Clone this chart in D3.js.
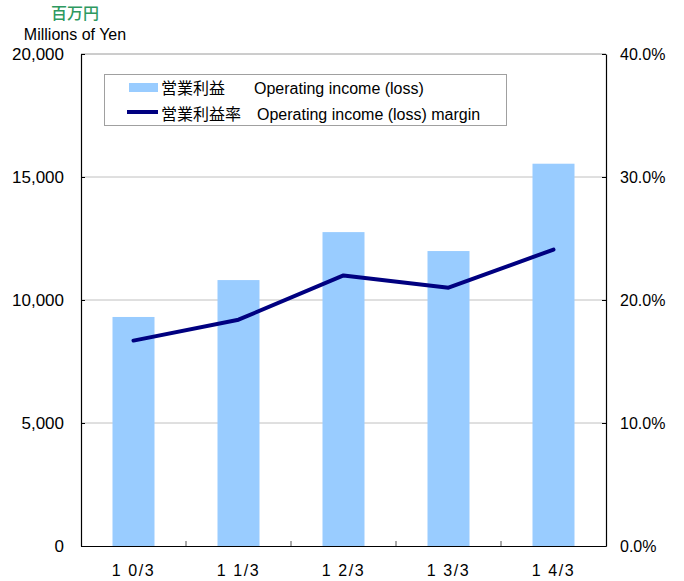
<!DOCTYPE html>
<html><head><meta charset="utf-8">
<script src="https://cdn.jsdelivr.net/npm/d3@7"></script>
<style>
body{margin:0;background:#fff}
svg{display:block;font-family:"Liberation Sans",Arial,"Noto Sans CJK JP",sans-serif}
</style>
</head><body><svg id="c" width="684" height="581"></svg>
<script>
const categories = ["1 0/3", "1 1/3", "1 2/3", "1 3/3", "1 4/3"];
const incomeValues = [9310, 10810, 12760, 11990, 15540];
const marginValues = [16.7, 18.4, 22.0, 21.0, 24.1];
const leftTicks = [0, 5000, 10000, 15000, 20000];
const rightTicks = [0, 10, 20, 30, 40];
const unitJa = "百万円";
const unitEn = "Millions of Yen";
const legendJa = ["営業利益", "営業利益率"];
const legendEn = ["Operating income (loss)", "Operating income (loss) margin"];

const svg = d3.select("#c");
const L = 81, R = 606, T = 54, B = 546;

const x = d3.scaleBand().domain(categories).range([L, R]).paddingInner(0.6).paddingOuter(0.3);
const yL = d3.scaleLinear().domain([0, 20000]).range([B, T]);
const yR = d3.scaleLinear().domain([0, 40]).range([B, T]);

// gridlines
svg.append("g").selectAll("line").data(leftTicks.filter(d => d > 0 && d < 20000)).join("line")
  .attr("x1", L).attr("x2", R).attr("y1", d => yL(d)).attr("y2", d => yL(d))
  .attr("stroke", "#c0c0c0").attr("stroke-width", 1);
// top border
svg.append("line").attr("x1", L).attr("x2", R).attr("y1", yL(20000)).attr("y2", yL(20000))
  .attr("stroke", "#9a9a9a").attr("stroke-width", 1);

// bars
svg.append("g").selectAll("rect").data(incomeValues).join("rect")
  .attr("x", (d, i) => x(categories[i]))
  .attr("width", x.bandwidth())
  .attr("y", d => yL(d))
  .attr("height", d => B - yL(d))
  .attr("fill", "#99ccff");

// line
const line = d3.line()
  .x((d, i) => x(categories[i]) + x.bandwidth() / 2)
  .y(d => yR(d));
svg.append("path").datum(marginValues).attr("d", line)
  .attr("fill", "none").attr("stroke", "#000080").attr("stroke-width", 4)
  .attr("stroke-linejoin", "round").attr("stroke-linecap", "round");

// axes
const fmtL = d3.format(",");
const axL = svg.append("g").attr("transform", `translate(${L},0)`)
  .call(d3.axisLeft(yL).tickValues(leftTicks).tickFormat(fmtL).tickSizeInner(-4).tickSizeOuter(0).tickPadding(17));
const axR = svg.append("g").attr("transform", `translate(${R},0)`)
  .call(d3.axisRight(yR).tickValues(rightTicks).tickFormat(d => d.toFixed(1) + "%").tickSizeInner(-4).tickSizeOuter(0).tickPadding(14));
[axL, axR].forEach((a, k) => {
  a.select(".domain").attr("stroke", "#000").attr("stroke-width", 1.2);
  a.selectAll(".tick line").attr("stroke", "#000");
  a.selectAll(".tick text").attr("font-size", k === 0 ? 17 : 16).attr("fill", "#000")
    .attr("font-family", "'Liberation Sans',Arial,sans-serif");
});

// bottom axis
const step = x.step();
const axB = svg.append("g").attr("transform", `translate(0,${B})`)
  .call(d3.axisBottom(x).tickSize(0).tickPadding(19));
axB.select(".domain").attr("stroke", "#000").attr("stroke-width", 1.2);
axB.selectAll(".tick text").attr("font-size", 16).attr("fill", "#000")
  .attr("letter-spacing", "1.6px")
  .attr("font-family", "'Liberation Sans',Arial,sans-serif");
svg.append("g").selectAll("line").data(categories.slice(1)).join("line")
  .attr("x1", d => x(d) + x.bandwidth() / 2 - step / 2)
  .attr("x2", d => x(d) + x.bandwidth() / 2 - step / 2)
  .attr("y1", B).attr("y2", B - 5)
  .attr("stroke", "#555").attr("stroke-width", 1);

// unit labels
svg.append("text").attr("x", 75).attr("y", 19).attr("text-anchor", "middle")
  .attr("font-size", 16).attr("fill", "#2e9960").attr("font-weight", 500)
  .attr("font-family", "'Noto Sans CJK JP',sans-serif").text(unitJa);
svg.append("text").attr("x", 75).attr("y", 40).attr("text-anchor", "middle")
  .attr("font-size", 16).attr("fill", "#000").text(unitEn);

// legend
const lg = svg.append("g");
lg.append("rect").attr("x", 104.5).attr("y", 74.5).attr("width", 402).attr("height", 51)
  .attr("fill", "#fff").attr("stroke", "#a0a0a0").attr("stroke-width", 1);
lg.append("rect").attr("x", 129).attr("y", 83).attr("width", 29).attr("height", 9).attr("fill", "#99ccff");
lg.append("line").attr("x1", 127).attr("x2", 158).attr("y1", 112).attr("y2", 112)
  .attr("stroke", "#000080").attr("stroke-width", 4);
const rowsY = [93.5, 119.5];
const enX = [254, 257];
legendJa.forEach((t, i) => {
  lg.append("text").attr("x", 161).attr("y", rowsY[i]).attr("font-size", 16)
    .attr("font-family", "'Noto Sans CJK JP',sans-serif").attr("fill", "#000").text(t);
  lg.append("text").attr("x", enX[i]).attr("y", rowsY[i]).attr("font-size", 16)
    .attr("fill", "#000").text(legendEn[i]);
});
</script>
</body></html>
